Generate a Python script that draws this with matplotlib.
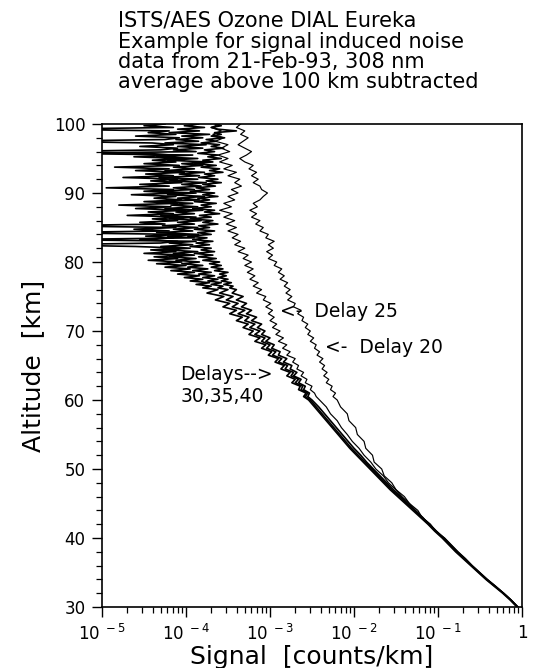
import numpy as np
import matplotlib
matplotlib.use("Agg")
import matplotlib.pyplot as plt
from matplotlib.ticker import FixedLocator, FixedFormatter, MultipleLocator, LogLocator

plt.rcParams['font.family'] = ['DejaVu Sans']
plt.rcParams['mathtext.fontset'] = 'dejavusans'

# ---------------- data ----------------
alt_low = list(range(30, 60))                          # 30..59 km, 1 km steps
alt_high = [60 + 0.5 * i for i in range(81)]           # 60..100 km, 0.5 km steps
alt_mid = [60 + 0.5 * i for i in range(32)]            # 60..75.5 km, 0.5 km steps
alt_top = [76 + 0.25 * i for i in range(97)]           # 76..100 km, 0.25 km steps

# log10(signal [counts/km])
d20_low = [-0.05, -0.13, -0.22, -0.31, -0.41, -0.50, -0.59, -0.67, -0.76, -0.84,
           -0.92, -1.03, -1.09, -1.19, -1.24, -1.34, -1.40, -1.50, -1.55, -1.64,
           -1.67, -1.76, -1.78, -1.86, -1.88, -1.96, -1.98, -2.06, -2.08, -2.16]
d20_high = [-2.20, -2.25, -2.22, -2.28, -2.26, -2.33, -2.30, -2.36, -2.32, -2.38,
            -2.35, -2.41, -2.37, -2.44, -2.41, -2.47, -2.45, -2.52, -2.48, -2.55,
            -2.52, -2.58, -2.55, -2.62, -2.60, -2.67, -2.63, -2.72, -2.70, -2.79,
            -2.74, -2.81, -2.76, -2.83, -2.79, -2.88, -2.83, -2.90, -2.86, -2.95,
            -2.92, -3.02, -2.97, -3.04, -2.96, -3.02, -2.95, -3.05, -3.02, -3.12,
            -3.08, -3.17, -3.12, -3.22, -3.16, -3.24, -3.15, -3.20, -3.12, -3.08,
            -3.03, -3.10, -3.12, -3.20, -3.14, -3.22, -3.16, -3.25, -3.20, -3.30,
            -3.36, -3.28, -3.22, -3.30, -3.38, -3.32, -3.26, -3.35, -3.30, -3.40,
            -3.35]

d25_low = [-0.05, -0.13, -0.22, -0.32, -0.42, -0.51, -0.60, -0.68, -0.77, -0.85,
           -0.93, -1.02, -1.11, -1.18, -1.27, -1.34, -1.43, -1.50, -1.59, -1.65,
           -1.74, -1.80, -1.88, -1.94, -2.02, -2.08, -2.15, -2.20, -2.28, -2.33]
d25_high = [-2.41, -2.45, -2.47, -2.52, -2.50, -2.58, -2.56, -2.63, -2.60, -2.68,
            -2.66, -2.73, -2.70, -2.80, -2.76, -2.85, -2.80, -2.90, -2.84, -2.93,
            -2.88, -2.97, -2.92, -3.00, -2.95, -3.02, -2.97, -3.05, -2.99, -3.08,
            -3.05, -3.16, -3.10, -3.20, -3.14, -3.24, -3.18, -3.27, -3.20, -3.30,
            -3.22, -3.32, -3.26, -3.38, -3.30, -3.42, -3.35, -3.45, -3.38, -3.50,
            -3.40, -3.52, -3.42, -3.55, -3.45, -3.60, -3.46, -3.55, -3.42, -3.50,
            -3.38, -3.46, -3.34, -3.42, -3.36, -3.50, -3.40, -3.55, -3.45, -3.60,
            -3.50, -3.62, -3.48, -3.58, -3.50, -3.65, -3.55, -3.68, -3.58, -3.70,
            -3.60]

d30_low = [-0.05, -0.13, -0.22, -0.32, -0.42, -0.51, -0.60, -0.68, -0.77, -0.85,
           -0.93, -1.02, -1.10, -1.19, -1.27, -1.36, -1.44, -1.53, -1.61, -1.69,
           -1.77, -1.85, -1.92, -2.00, -2.07, -2.14, -2.21, -2.28, -2.35, -2.42]
d30_mid = [-2.50, -2.55, -2.53, -2.60, -2.58, -2.66, -2.63, -2.72, -2.68, -2.76,
           -2.74, -2.84, -2.80, -2.90, -2.88, -2.98, -2.95, -3.05, -3.00, -3.10,
           -3.06, -3.15, -3.10, -3.22, -3.16, -3.28, -3.22, -3.34, -3.28, -3.40,
           -3.32, -3.45]
d30_top = [-3.40, -3.48, -3.44, -3.55, -3.46, -3.58, -3.50, -3.62, -3.52, -3.60,
           -3.50, -3.66, -3.56, -3.70, -3.58, -3.72, -3.60, -3.80, -3.64, -3.85,
           -3.68, -3.90, -3.66, -3.82, -3.70, -3.95, -3.72, -3.88, -3.68, -3.92,
           -3.75, -3.98, -3.70, -3.86, -3.66, -3.90, -3.72, -3.85, -3.62, -3.80,
           -3.68, -3.95, -3.70, -3.84, -3.60, -3.78, -3.66, -3.92, -3.70, -3.82,
           -3.64, -3.90, -3.72, -3.86, -3.62, -3.80, -3.66, -3.95, -3.72, -3.88,
           -3.65, -3.80, -3.58, -3.76, -3.62, -3.85, -3.66, -3.78, -3.56, -3.72,
           -3.60, -3.82, -3.64, -3.90, -3.68, -3.80, -3.58, -3.74, -3.62, -3.86,
           -3.66, -3.78, -3.55, -3.70, -3.60, -3.82, -3.64, -3.76, -3.54, -3.70,
           -3.58, -3.66, -3.40, -3.62, -3.70, -3.58, -3.65]

d35_low = [-0.05, -0.13, -0.22, -0.32, -0.42, -0.51, -0.60, -0.69, -0.78, -0.86,
           -0.94, -1.03, -1.11, -1.20, -1.28, -1.37, -1.46, -1.55, -1.63, -1.71,
           -1.79, -1.87, -1.95, -2.03, -2.10, -2.17, -2.24, -2.31, -2.38, -2.45]
d35_mid = [-2.52, -2.58, -2.55, -2.63, -2.61, -2.70, -2.66, -2.75, -2.72, -2.82,
           -2.79, -2.90, -2.86, -2.97, -2.93, -3.04, -3.00, -3.10, -3.06, -3.18,
           -3.12, -3.24, -3.18, -3.30, -3.25, -3.38, -3.30, -3.45, -3.38, -3.52,
           -3.44, -3.60]
d35_top = [-3.50, -3.62, -3.56, -3.70, -3.58, -3.74, -3.62, -3.80, -3.66, -3.85,
           -3.70, -3.92, -3.74, -3.98, -3.80, -4.05, -3.84, -4.12, -3.88, -4.20,
           -3.90, -4.15, -3.86, -4.25, -3.95, -4.30, -3.92, -4.20, -3.88, -5.60,
           -3.90, -4.22, -3.85, -4.35, -3.92, -4.15, -3.86, -4.28, -3.90, -4.10,
           -3.82, -4.20, -3.88, -4.30, -3.90, -4.12, -3.80, -4.25, -3.86, -4.18,
           -3.92, -4.35, -3.84, -4.10, -3.78, -4.22, -3.88, -4.40, -3.90, -4.15,
           -3.82, -4.05, -3.76, -4.20, -3.86, -4.32, -3.84, -4.08, -3.78, -4.25,
           -3.90, -4.15, -3.80, -4.05, -3.74, -4.22, -3.86, -4.35, -3.92, -5.60,
           -3.88, -4.15, -3.80, -4.10, -3.76, -4.25, -3.85, -4.12, -3.80, -4.05,
           -3.72, -4.20, -3.84, -4.10, -3.78, -4.02, -3.85]

d40_low = [-0.06, -0.14, -0.23, -0.33, -0.43, -0.52, -0.61, -0.70, -0.79, -0.87,
           -0.95, -1.04, -1.12, -1.21, -1.30, -1.39, -1.48, -1.57, -1.65, -1.73,
           -1.81, -1.89, -1.97, -2.05, -2.12, -2.19, -2.26, -2.33, -2.40, -2.47]
d40_mid = [-2.54, -2.60, -2.57, -2.66, -2.64, -2.74, -2.70, -2.80, -2.76, -2.87,
           -2.83, -2.94, -2.90, -3.02, -2.98, -3.10, -3.05, -3.18, -3.12, -3.25,
           -3.20, -3.32, -3.26, -3.40, -3.33, -3.48, -3.40, -3.56, -3.48, -3.65,
           -3.55, -3.75]
d40_top = [-3.62, -3.80, -3.70, -3.88, -3.72, -3.95, -3.80, -4.02, -3.84, -4.10,
           -3.90, -4.18, -3.95, -4.25, -4.00, -4.35, -4.05, -4.45, -4.10, -4.38,
           -4.02, -4.50, -4.12, -4.42, -4.05, -4.60, -5.70, -4.30, -4.10, -4.55,
           -4.15, -4.48, -4.05, -5.70, -4.20, -4.62, -4.12, -5.70, -4.25, -4.55,
           -4.10, -4.40, -4.02, -4.70, -4.15, -4.45, -4.00, -4.60, -4.18, -4.80,
           -4.10, -4.50, -4.05, -4.38, -4.12, -4.65, -4.08, -4.50, -4.15, -4.95,
           -4.20, -4.55, -4.05, -4.42, -4.10, -4.75, -4.15, -4.48, -4.02, -4.60,
           -4.20, -4.85, -4.08, -4.50, -4.12, -4.40, -4.05, -4.62, -4.18, -4.45,
           -5.70, -4.30, -4.10, -4.55, -4.15, -4.40, -5.70, -4.25, -4.08, -4.60,
           -4.12, -4.45, -4.20, -5.70, -4.15, -4.50, -4.25]

alt_smooth = alt_low + alt_high
alt_bundle = alt_low + alt_mid + alt_top
curves = [
    ("20", alt_smooth, d20_low + d20_high, 0.85),
    ("25", alt_smooth, d25_low + d25_high, 0.85),
    ("30", alt_bundle, d30_low + d30_mid + d30_top, 1.2),
    ("35", alt_bundle, d35_low + d35_mid + d35_top, 1.2),
    ("40", alt_bundle, d40_low + d40_mid + d40_top, 1.2),
]

x_ticks = [1e-5, 1e-4, 1e-3, 1e-2, 1e-1, 1.0]
x_ticklabels = [r'$10^{\ -5}$', r'$10^{\ -4}$', r'$10^{\ -3}$',
                r'$10^{\ -2}$', r'$10^{\ -1}$', '1']
y_ticks = [30, 40, 50, 60, 70, 80, 90, 100]

title_lines = ["ISTS/AES Ozone DIAL Eureka",
               "Example for signal induced noise",
               "data from 21-Feb-93, 308 nm",
               "average above 100 km subtracted"]

# ---------------- figure ----------------
W, H = 533, 668
fig = plt.figure(figsize=(W / 100, H / 100), dpi=100)
L, R, T, B = 102, 522, 124, 607
ax = fig.add_axes([L / W, 1 - B / H, (R - L) / W, (B - T) / H])

for key, alts, vals, lw in curves:
    ax.plot(10 ** np.array(vals), np.array(alts, dtype=float),
            color='black', lw=lw)

ax.set_xscale('log')
ax.set_xlim(1e-5, 1)
ax.set_ylim(30, 100)

ax.xaxis.set_major_locator(FixedLocator(x_ticks))
ax.xaxis.set_major_formatter(FixedFormatter(x_ticklabels))
ax.xaxis.set_minor_locator(LogLocator(base=10, subs=np.arange(2, 10)))
ax.xaxis.set_minor_formatter(FixedFormatter([]))
ax.yaxis.set_major_locator(FixedLocator(y_ticks))
ax.yaxis.set_minor_locator(MultipleLocator(2))

ax.tick_params(which='major', direction='out', length=7, width=1,
               labelsize=12, pad=5, top=False, right=False)
ax.tick_params(which='minor', direction='out', length=4.5, width=0.9,
               top=False, right=False)
for s in ax.spines.values():
    s.set_linewidth(1.2)

ax.set_xlabel('Signal  [counts/km]', fontsize=18, labelpad=1)
ax.set_ylabel('Altitude  [km]', fontsize=18, labelpad=6)

for i, line in enumerate(title_lines):
    fig.text(118 / W, 1 - (27 + 20.5 * i) / H, line, fontsize=15,
             ha='left', va='baseline')

ax.text(10 ** -2.88, 72.0, '<-  Delay 25', fontsize=13.5, ha='left', va='baseline')
ax.text(10 ** -2.35, 66.8, '<-  Delay 20', fontsize=13.5, ha='left', va='baseline')
ax.text(10 ** -4.07, 62.9, 'Delays-->', fontsize=13.5, ha='left', va='baseline')
ax.text(10 ** -4.07, 59.7, '30,35,40', fontsize=13.5, ha='left', va='baseline')

fig.savefig('out.png', dpi=100)
